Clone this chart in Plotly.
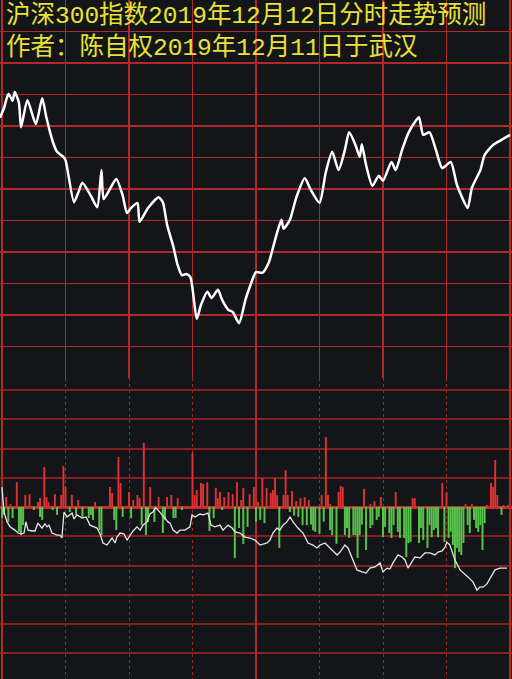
import plotly.graph_objects as go

# ---------------- data ----------------
title_line1 = "沪深300指数2019年12月12日分时走势预测"
title_line2 = "作者：陈自权2019年12月11日于武汉"

# intraday forecast curve (minute index, index points)
price_min = [-1, 1, 3, 5, 6, 8, 9, 12, 16, 19, 21, 24, 26, 29, 30, 34, 36, 38, 42, 45,
             47, 48, 51, 54, 57, 59, 61, 64, 65, 69, 74, 76, 78, 81, 83, 85, 87, 89, 92, 94,
             97, 99, 102, 104, 107, 109, 112, 115, 117, 120, 123, 126, 129, 132, 133, 136, 139, 143, 146, 150,
             153, 156, 159, 162, 164, 167, 169, 170, 172, 175, 178, 180, 184, 186, 189, 192, 195, 197, 199, 202,
             205, 208, 212, 215, 220, 222, 226, 228, 232, 236, 240]
price_val = [3911.3, 3912.9, 3915.1, 3914.0, 3915.4, 3913.7, 3909.8, 3914.1, 3910.3, 3914.4,
             3911.3, 3907.5, 3905.9, 3905.1, 3904.6, 3897.9, 3899.4, 3901.0, 3898.9, 3897.1,
             3903.0, 3898.4, 3900.0, 3901.6, 3899.0, 3896.2, 3897.0, 3897.8, 3894.8, 3897.0,
             3898.7, 3897.9, 3894.3, 3890.8, 3887.9, 3886.3, 3886.5, 3886.0, 3879.4, 3881.6,
             3883.7, 3882.7, 3884.0, 3882.4, 3880.8, 3880.5, 3878.7, 3882.4, 3884.4, 3886.8,
             3886.7, 3888.3, 3891.9, 3895.1, 3893.7, 3895.1, 3898.6, 3901.7, 3899.8, 3897.8,
             3902.7, 3905.9, 3903.0, 3906.2, 3909.0, 3907.0, 3905.1, 3907.1, 3903.8, 3900.5,
             3902.1, 3901.3, 3904.3, 3903.0, 3906.2, 3908.9, 3910.6, 3911.4, 3908.6, 3909.0,
             3906.2, 3903.3, 3904.3, 3900.6, 3897.0, 3900.2, 3903.0, 3905.4, 3907.0, 3907.8, 3908.6]

# buying (red) and selling (green) volume bars
red_min = [2, 4, 7, 11, 13, 17, 18, 20, 21, 22, 25, 28, 29, 30, 33, 36, 44, 51, 52, 55,
           56, 60, 62, 64, 65, 67, 70, 74, 78, 80, 83, 90, 91, 92, 94, 95, 97, 101, 102, 103,
           105, 107, 109, 111, 113, 114, 117, 119, 121, 123, 125, 127, 128, 129, 130, 133, 134, 135, 137, 139,
           141, 143, 145, 151, 153, 154, 155, 159, 160, 161, 171, 174, 176, 179, 186, 194, 195, 208, 210, 219,
           222, 229, 231, 232, 233, 234, 237, 239]
red_val = [0.34, 0.10, 0.85, 0.41, 0.44, 0.17, 0.31, 1.37, 0.34, 0.17, 0.44, 0.41, 1.40, 0.68, 0.41, 0.24, 0.17, 0.68, 0.48, 1.71,
           0.82, 0.51, 0.24, 0.41, 0.30, 2.19, 0.68, 0.34, 0.34, 0.41, 0.30, 1.85, 0.41, 0.58, 0.82, 0.79, 0.85, 0.65, 0.30, 0.51,
           0.34, 0.51, 0.44, 0.85, 0.24, 0.65, 0.44, 0.68, 0.17, 0.99, 0.65, 0.48, 0.58, 0.99, 0.41, 0.41, 1.26, 0.41, 0.55, 0.20,
           0.30, 0.34, 0.24, 0.41, 2.39, 0.41, 0.10, 0.51, 0.72, 0.68, 0.62, 0.10, 0.20, 0.34, 0.51, 0.30, 0.30, 0.82, 0.51, 0.10,
           0.10, 0.07, 0.82, 0.68, 1.61, 0.41, 0.07, 0.07]

green_min = [0, 1, 3, 5, 8, 9, 10, 15, 18, 19, 24, 26, 32, 35, 38, 41, 42, 43, 46, 47,
             53, 54, 57, 61, 66, 68, 69, 72, 76, 77, 81, 82, 85, 98, 100, 104, 110, 112, 114, 116,
             120, 122, 124, 131, 136, 138, 140, 142, 144, 146, 147, 148, 150, 152, 155, 156, 158, 162, 163, 164,
             166, 167, 168, 169, 170, 172, 174, 175, 177, 178, 180, 181, 183, 184, 185, 187, 188, 190, 191, 192,
             193, 197, 198, 199, 201, 202, 203, 204, 205, 206, 209, 211, 212, 213, 214, 215, 216, 217, 218, 220,
             221, 223, 224, 225, 226, 227, 228, 236]
green_val = [-0.38, -0.27, -0.51, -0.38, -0.85, -0.96, -0.62, -0.10, -0.34, -0.44, -0.10, -0.27, -0.17, -0.27, -0.34, -0.38, -0.27, -0.44, -0.79, -0.96,
             -0.44, -0.79, -0.34, -0.38, -0.62, -0.96, -0.51, -0.51, -0.89, -0.44, -0.38, -0.38, -0.10, -0.82, -0.38, -0.10, -1.74, -0.72, -1.26, -0.68,
             -0.51, -0.44, -0.55, -1.40, -0.17, -0.30, -0.34, -0.62, -0.62, -0.60, -0.80, -0.85, -0.92, -0.50, -0.79, -0.96, -1.26, -0.96, -0.72, -1.06,
             -0.96, -0.96, -1.74, -0.96, -0.60, -1.47, -0.72, -0.62, -0.44, -0.34, -1.03, -0.68, -0.89, -1.06, -0.62, -0.85, -1.06, -1.06, -1.71, -1.23,
             -1.20, -1.23, -0.72, -1.13, -1.40, -0.62, -1.03, -0.79, -0.72, -1.03, -1.20, -1.06, -0.85, -1.30, -2.09, -1.40, -1.54, -1.64, -1.23, -0.62,
             -0.89, -0.44, -0.72, -0.85, -0.62, -1.47, -0.55, -0.27]

# cumulative net flow line (minute, value)
flow_min = [0, 0.5, 0.9, 2.4, 3.8, 6.1, 7.6, 9.4, 10.4, 11.3, 12.3, 14.2, 15.6, 17.0, 18.9, 20.3, 21.3, 22.2, 23.6, 26.0,
            27.4, 28.3, 29.3, 30.7, 33.1, 34.0, 35.4, 37.8, 39.7, 41.6, 44.9, 46.3, 47.7, 49.6, 52.0, 53.4, 54.3, 55.7, 57.6, 59.1,
            60.5, 61.9, 63.8, 65.2, 66.6, 68.5, 69.9, 71.3, 72.7, 73.7, 75.6, 77.0, 78.4, 79.4, 80.8, 82.7, 84.1, 86.4, 88.8, 89.8,
            91.2, 93.5, 95.0, 97.3, 98.7, 100.6, 103.0, 104.4, 106.8, 108.7, 110.1, 112.4, 114.8, 117.2, 119.5, 121.9, 125.2, 126.6, 128.0, 129.9,
            131.3, 132.7, 134.6, 136.1, 137.5, 139.8, 142.2, 144.6, 146.9, 148.8, 150.2, 152.6, 154.5, 156.4, 158.3, 159.7, 162.0, 163.5, 165.3, 167.7,
            170.1, 172.0, 173.8, 176.2, 178.6, 180.0, 181.9, 183.3, 184.7, 187.1, 189.0, 190.4, 191.8, 193.7, 195.1, 197.5, 199.8, 202.2, 204.5, 206.0,
            207.9, 209.3, 210.2, 211.6, 214.0, 216.4, 218.7, 220.1, 222.5, 224.4, 225.8, 227.2, 229.1, 231.5, 232.9, 235.3, 238.6]
flow_val = [0.68, 0.31, -0.17, -0.51, -0.68, -0.79, -0.89, -0.92, -0.89, -0.51, -0.79, -0.82, -0.82, -0.55, -0.72, -0.58, -0.68, -0.62, -0.89, -0.96,
            -0.96, -1.06, -0.17, -0.34, -0.21, -0.41, -0.27, -0.38, -0.34, -0.62, -0.72, -0.92, -1.23, -1.30, -1.06, -1.23, -1.03, -0.89, -0.92, -1.13,
            -0.99, -0.82, -0.68, -0.79, -0.62, -0.51, -0.24, -0.17, -0.03, -0.10, -0.27, -0.38, -0.51, -0.55, -0.79, -0.89, -0.79, -0.79, -0.68, -0.27,
            -0.34, -0.24, -0.27, -0.21, -0.62, -0.68, -0.62, -0.79, -0.62, -0.72, -0.85, -0.89, -1.03, -1.06, -1.13, -1.30, -1.23, -1.13, -0.89, -0.72,
            -0.79, -0.62, -0.51, -0.34, -0.51, -0.72, -0.89, -1.23, -1.30, -1.40, -1.30, -1.23, -1.37, -1.50, -1.64, -1.54, -1.30, -1.40, -1.74, -2.15,
            -2.22, -2.26, -2.09, -2.05, -1.91, -2.22, -2.09, -2.12, -1.91, -1.64, -1.71, -1.81, -2.09, -1.88, -1.71, -1.74, -1.57, -1.57, -1.64, -1.54,
            -1.50, -1.37, -1.20, -1.30, -1.81, -2.15, -2.32, -2.39, -2.56, -2.84, -2.74, -2.74, -2.63, -2.32, -2.15, -2.09, -2.09]

# ---------------- figure ----------------
BG = "#141518"
W, H = 512, 679
split = 1 - 378 / H
xr = [-0.945, 240.945]
TXT = dict(family="Liberation Mono, Noto Sans CJK SC", size=24.5, color="#e8e236")

fig = go.Figure()
fig.add_trace(go.Scatter(x=price_min, y=price_val, mode="lines",
                         line=dict(color="#ffffff", width=2.5, shape="spline", smoothing=0.6),
                         xaxis="x", yaxis="y", hoverinfo="skip"))
fig.add_trace(go.Bar(x=red_min, y=red_val, marker=dict(color="#e03232", line=dict(width=0)),
                     width=0.9, xaxis="x2", yaxis="y2", hoverinfo="skip"))
fig.add_trace(go.Bar(x=green_min, y=green_val, marker=dict(color="#56c24a", line=dict(width=0)),
                     width=0.95, xaxis="x2", yaxis="y2", hoverinfo="skip"))
fig.add_trace(go.Scatter(x=flow_min, y=flow_val, mode="lines",
                         line=dict(color="#e6e6e6", width=1.3),
                         xaxis="x2", yaxis="y2", hoverinfo="skip"))
fig.add_trace(go.Scatter(x=[None], y=[None], xaxis="x3", yaxis="y2", hoverinfo="skip"))

fig.update_layout(
    width=W, height=H,
    paper_bgcolor=BG, plot_bgcolor=BG,
    margin=dict(l=0, r=0, t=0, b=0),
    showlegend=False, barmode="overlay",
    annotations=[
        dict(text=title_line1 + "<br>" + title_line2, xref="paper", yref="paper",
             x=4 / W, y=1 - 31.5 / H, xanchor="left", yanchor="middle", align="left",
             showarrow=False, font=TXT),
    ],
    xaxis=dict(domain=[0, 1], anchor="y", range=xr, tickvals=list(range(0, 241, 30)),
               showticklabels=False, ticks="", showgrid=True, gridcolor="#b3282a", gridwidth=1.5,
               zeroline=False, showline=False),
    yaxis=dict(domain=[split, 1], anchor="x", range=[3870, 3930], dtick=5, tick0=3870,
               showticklabels=False, ticks="", showgrid=True, gridcolor="#b3282a", gridwidth=1.5,
               zeroline=False, showline=False),
    xaxis2=dict(domain=[0, 1], anchor="y2", range=xr, tickvals=[30, 60, 90, 150, 180, 210],
                showticklabels=False, ticks="", showgrid=True, gridcolor="#9a2a2a", gridwidth=1,
                griddash="dot", zeroline=False, showline=False),
    xaxis3=dict(overlaying="x2", anchor="y2", range=xr, tickvals=[0, 120, 240],
                showticklabels=False, ticks="", showgrid=True, gridcolor="#b3282a", gridwidth=1.5,
                zeroline=False, showline=False),
    yaxis2=dict(domain=[0, split], anchor="x2", range=[-5.88, 4.41], dtick=1, tick0=0,
                showticklabels=False, ticks="", showgrid=True, gridcolor="#862020", gridwidth=2,
                zeroline=True, zerolinecolor="#c0302e", zerolinewidth=3, showline=False),
)

fig.write_html("out.html", config={"displayModeBar": False, "staticPlot": True},
               post_script="document.body.style.margin='0';document.body.style.background='#141518';")
